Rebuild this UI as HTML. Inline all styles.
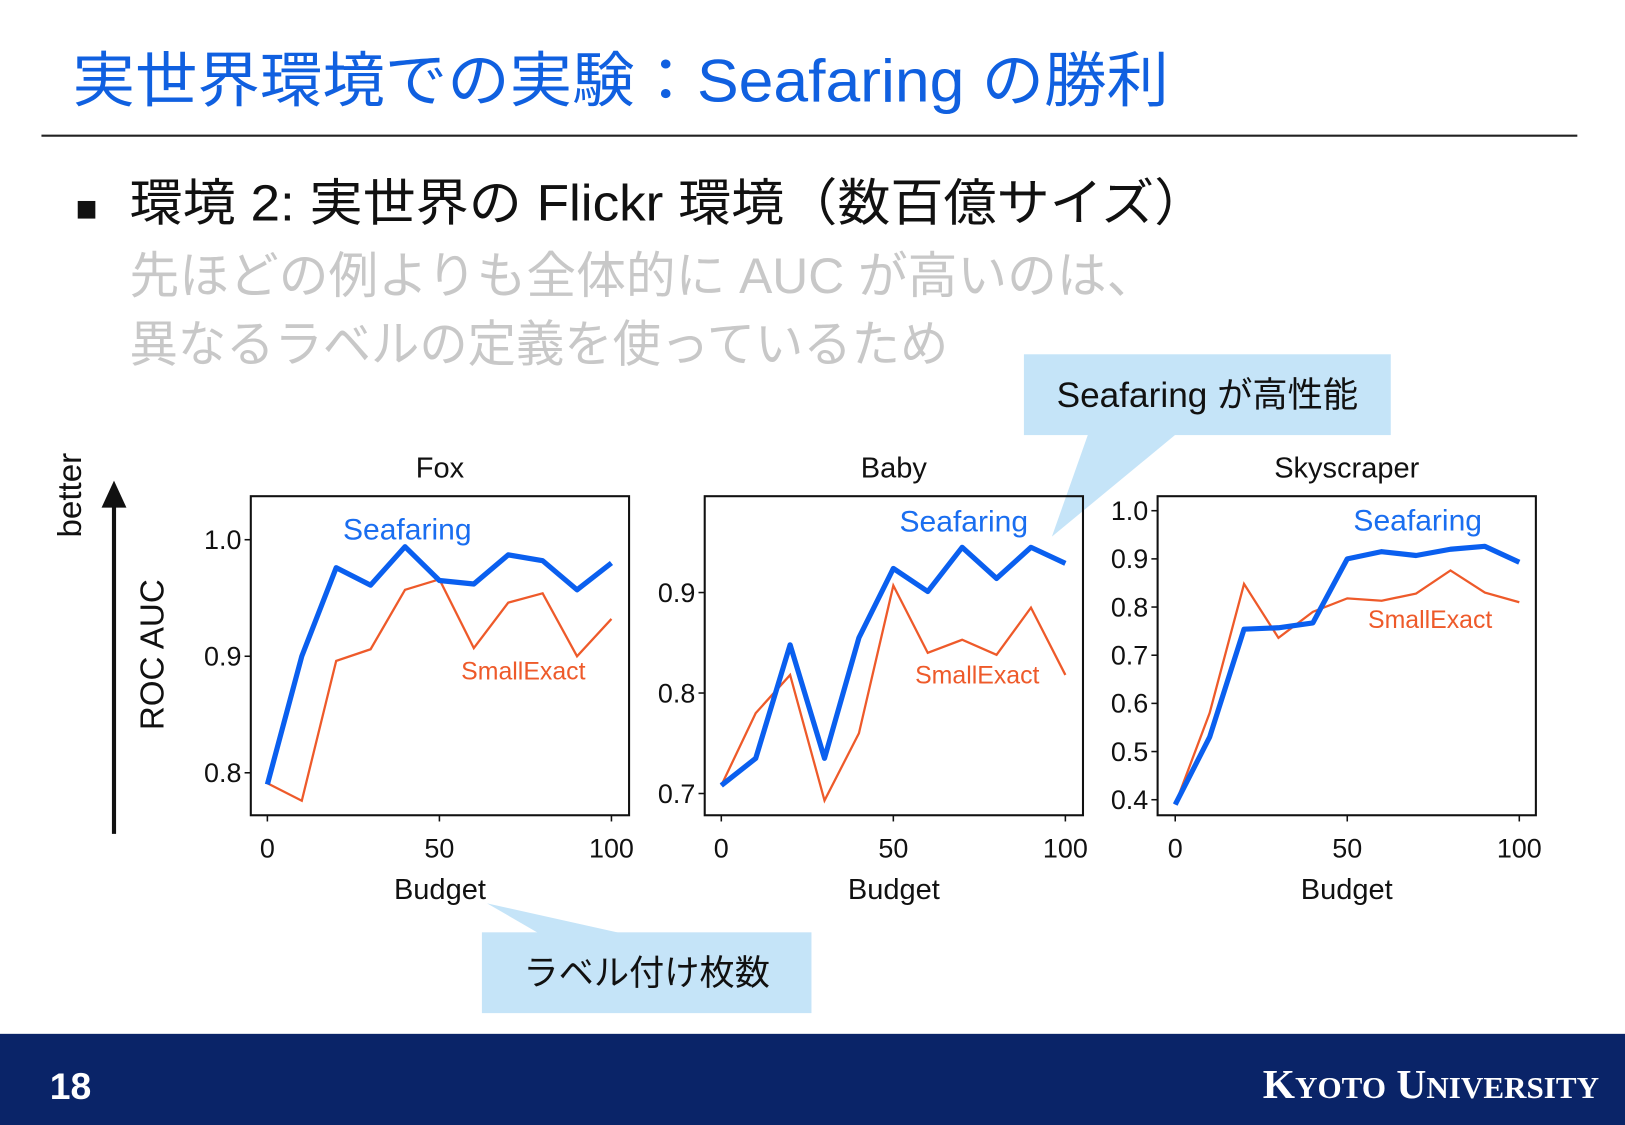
<!DOCTYPE html>
<html><head><meta charset="utf-8">
<style>
html,body{margin:0;padding:0;background:#fff;}
svg{display:block;}
text{font-family:"Liberation Sans","Noto Sans CJK JP",sans-serif;}
</style></head>
<body>
<svg id="s" width="1625" height="1125" viewBox="0 0 1568 1086" preserveAspectRatio="none" xmlns="http://www.w3.org/2000/svg">
<text x="70" y="98" font-size="58" fill="#1060e0" textLength="1058" lengthAdjust="spacingAndGlyphs">実世界環境での実験：Seafaring の勝利</text>
<line x1="40" y1="131" x2="1522" y2="131" stroke="#222" stroke-width="2"/>
<rect x="75" y="194" width="17" height="17" fill="#111"/>
<text x="125" y="213" font-size="49" fill="#111" textLength="1040" lengthAdjust="spacingAndGlyphs">環境 2: 実世界の Flickr 環境（数百億サイズ）</text>
<text x="125" y="283" font-size="48" fill="#c8c8c8">先ほどの例よりも全体的に AUC が高いのは、</text>
<text x="125" y="349" font-size="48" fill="#c8c8c8" textLength="790" lengthAdjust="spacingAndGlyphs">異なるラベルの定義を使っているため</text>

<g>
<polygon points="1050,419 1135,419 1015,518" fill="#c5e4f8"/>
<rect x="988" y="342" width="354" height="78" fill="#c5e4f8"/>
<text x="1165" y="393" font-size="34" text-anchor="middle" fill="#111">Seafaring が高性能</text>
</g>
<g>
<polygon points="520,901 600,901 470,872" fill="#c5e4f8"/>
<rect x="465" y="900" width="318" height="78" fill="#c5e4f8"/>
<text x="624" y="951" font-size="34" text-anchor="middle" fill="#111">ラベル付け枚数</text>
</g>

<text transform="translate(78,478) rotate(-90)" font-size="32" text-anchor="middle" fill="#111">better</text>
<line x1="110" y1="805" x2="110" y2="485" stroke="#111" stroke-width="4"/>
<polygon points="110,464 98,490 122,490" fill="#111"/>
<text transform="translate(158,632) rotate(-90)" font-size="32" text-anchor="middle" fill="#111">ROC AUC</text>

<rect x="0" y="998" width="1568" height="88" fill="#0a2468"/>
<text x="48" y="1061" font-size="36" font-weight="bold" fill="#fff">18</text>
<text x="1543" y="1060" font-size="40" font-weight="bold" text-anchor="end" fill="#fff" style="font-family:'Liberation Serif',serif">K<tspan font-size="30">YOTO</tspan> U<tspan font-size="30">NIVERSITY</tspan></text>
<g id="charts"></g>
</svg>
<script>
const budgets=[0,10,20,30,40,50,60,70,80,90,100];
const xTicks=[0,50,100];
const foxSeafaring=[0.79,0.90,0.976,0.961,0.994,0.965,0.962,0.987,0.982,0.957,0.98];
const foxSmall=[0.791,0.776,0.896,0.906,0.957,0.966,0.907,0.946,0.954,0.900,0.932];
const foxYTicks=[0.8,0.9,1.0];
const babySeafaring=[0.708,0.735,0.848,0.735,0.855,0.924,0.901,0.945,0.914,0.945,0.929];
const babySmall=[0.708,0.78,0.818,0.693,0.76,0.907,0.840,0.853,0.838,0.885,0.818];
const babyYTicks=[0.7,0.8,0.9];
const skySeafaring=[0.39,0.53,0.754,0.757,0.767,0.90,0.915,0.907,0.92,0.926,0.893];
const skySmall=[0.39,0.58,0.848,0.736,0.79,0.818,0.813,0.828,0.876,0.83,0.81];
const skyYTicks=[0.4,0.5,0.6,0.7,0.8,0.9,1.0];

(function(){
const NS="http://www.w3.org/2000/svg";
const root=document.getElementById('charts');
function mk(tag,attrs,parent){const e=document.createElementNS(NS,tag);for(const k in attrs)e.setAttribute(k,attrs[k]);parent.appendChild(e);return e;}

const panels=[
 {key:'fox',title:'Fox',left:242,x0:258,x1:590,yA:0.8,pA:746,yB:1.0,pB:521,yt:foxYTicks,sea:foxSeafaring,sm:foxSmall,seaLbl:[393,511],smLbl:[505,647]},
 {key:'baby',title:'Baby',left:680,x0:696,x1:1028,yA:0.7,pA:766,yB:0.9,pB:572,yt:babyYTicks,sea:babySeafaring,sm:babySmall,seaLbl:[930,503],smLbl:[943,651]},
 {key:'skyscraper',title:'Skyscraper',left:1117,x0:1134,x1:1466,yA:0.4,pA:772,yB:1.0,pB:493,yt:skyYTicks,sea:skySeafaring,sm:skySmall,seaLbl:[1368,502],smLbl:[1380,597]}
];
const plotTop=479,plotBottom=787,w=365;
panels.forEach(p=>{
 const g=mk('g',{},root);
 
 
 const xs=v=>p.x0+(v-0)/(100-0)*(p.x1-p.x0);
 const ys=v=>p.pA+(v-p.yA)/(p.yB-p.yA)*(p.pB-p.pA);
 const fr=mk('rect',{x:p.left,y:plotTop,width:w,height:plotBottom-plotTop,fill:'none',stroke:'#111','stroke-width':2},g);
 
 
 const t=mk('text',{x:p.left+w/2,y:461,'font-size':28,'text-anchor':'middle',fill:'#111'},g);t.textContent=p.title;
 
 
 xTicks.forEach(v=>{
  mk('line',{x1:xs(v),x2:xs(v),y1:plotBottom,y2:plotBottom+6,stroke:'#111','stroke-width':1.5},g);
  const tl=mk('text',{x:xs(v),y:828,'font-size':26,'text-anchor':'middle',fill:'#111'},g);tl.textContent=v;
  
  
 });
 p.yt.forEach(v=>{
  mk('line',{x1:p.left-6,x2:p.left,y1:ys(v),y2:ys(v),stroke:'#111','stroke-width':1.5},g);
  const tl=mk('text',{x:p.left-9,y:ys(v)+9,'font-size':26,'text-anchor':'end',fill:'#111'},g);tl.textContent=v.toFixed(1);
  
  
 });
 const xl=mk('text',{x:p.left+w/2,y:868,'font-size':28,'text-anchor':'middle',fill:'#111'},g);xl.textContent='Budget';
 
 
 const sm=mk('polyline',{points:budgets.map((b,i)=>xs(b)+','+ys(p.sm[i])).join(' '),fill:'none',stroke:'#ee5a2a','stroke-width':2.2},g);
 
 
 const se=mk('polyline',{points:budgets.map((b,i)=>xs(b)+','+ys(p.sea[i])).join(' '),fill:'none',stroke:'#0a5fef','stroke-width':5,'stroke-linejoin':'round'},g);
 
 
 const l1=mk('text',{x:p.seaLbl[0],y:p.seaLbl[1]+10,'font-size':29,'text-anchor':'middle',fill:'#1a6ef0'},g);l1.textContent='Seafaring';
 
 
 const l2=mk('text',{x:p.smLbl[0],y:p.smLbl[1]+9,'font-size':24,'text-anchor':'middle',fill:'#ee5a2a'},g);l2.textContent='SmallExact';
 
 
});
})();
</script>
</body></html>
